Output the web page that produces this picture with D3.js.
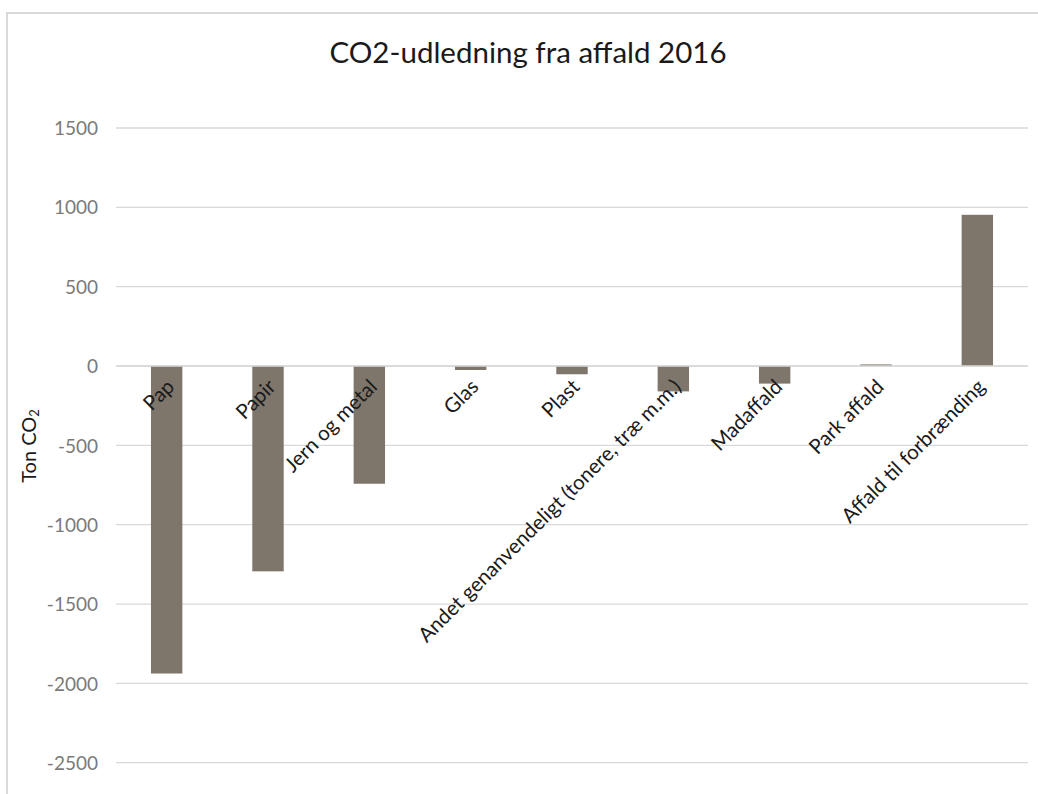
<!DOCTYPE html>
<html>
<head>
<meta charset="utf-8">
<script src="https://cdn.jsdelivr.net/npm/d3@7"></script>
<style>
  html, body { margin: 0; padding: 0; background: #fff; }
  svg { display: block; }
  text { font-family: Lato, "Open Sans", sans-serif; }
</style>
</head>
<body>
<svg id="chart" width="1038" height="794"></svg>
<script>
// Emissions per waste fraction, tonnes CO2 (negative = savings)
const categories = [
  "Pap", "Papir", "Jern og metal", "Glas", "Plast",
  "Andet genanvendeligt (tonere, træ m.m.)", "Madaffald", "Park affald",
  "Affald til forbrænding"
];
const values = [-1938, -1294, -742, -25, -52, -160, -111, 10, 953];
const yTicks = [1500, 1000, 500, 0, -500, -1000, -1500, -2000, -2500];
const titleText = "CO2-udledning fra affald 2016";

const svg = d3.select("#chart");
const W = 1038, H = 794;

// outer chart frame
svg.append("rect")
  .attr("x", 7).attr("y", 13)
  .attr("width", W + 10).attr("height", H + 10)
  .attr("fill", "#fff")
  .attr("stroke", "#d9d9d9").attr("stroke-width", 2);

const plot = { left: 116, right: 1028 };

const x = d3.scaleBand()
  .domain(categories)
  .range([plot.left, plot.right])
  .paddingInner(0.69).paddingOuter(0.345);

const y = d3.scaleLinear()
  .domain([-2500, 1500])
  .range([762.7, 128]);

// gridlines
svg.append("g")
  .selectAll("line")
  .data(yTicks)
  .join("line")
  .attr("x1", plot.left).attr("x2", plot.right)
  .attr("y1", d => y(d)).attr("y2", d => y(d))
  .attr("stroke", "#d9d9d9").attr("stroke-width", 1.3);

// y axis labels
const yAxis = d3.axisLeft(y).tickValues(yTicks).tickSize(0).tickPadding(0)
  .tickFormat(d => String(d));
const gy = svg.append("g")
  .attr("transform", `translate(${plot.left - 18},0)`)
  .call(yAxis);
gy.select(".domain").remove();
gy.selectAll("text")
  .attr("fill", "#7a7a7a")
  .attr("font-size", 19)
  .attr("font-family", "Lato, sans-serif")
  .attr("dy", "0.35em");

// bars
svg.append("g")
  .selectAll("rect")
  .data(values)
  .join("rect")
  .attr("x", (d, i) => x(categories[i]))
  .attr("width", x.bandwidth())
  .attr("y", d => y(Math.max(0, d)))
  .attr("height", d => Math.abs(y(d) - y(0)))
  .attr("fill", "#7f766b");

// zero line over bars
svg.append("line")
  .attr("x1", plot.left).attr("x2", plot.right)
  .attr("y1", y(0)).attr("y2", y(0))
  .attr("stroke", "#d9d9d9").attr("stroke-width", 1.3);

// rotated category labels
svg.append("g")
  .selectAll("text")
  .data(categories)
  .join("text")
  .attr("transform", d => `translate(${x(d) + x.bandwidth() / 2 + 9},${y(0) + 22}) rotate(-45)`)
  .attr("text-anchor", "end")
  .attr("font-size", 20.5)
  .attr("fill", "#1a1a1a")
  .text(d => d);

// title
svg.append("text")
  .attr("x", 528).attr("y", 63)
  .attr("text-anchor", "middle")
  .attr("font-size", 29.5)
  .attr("fill", "#1a1a1a")
  .text(titleText);

// y axis title
const yt = svg.append("text")
  .attr("transform", "translate(36,446) rotate(-90)")
  .attr("text-anchor", "middle")
  .attr("font-size", 20)
  .attr("fill", "#1a1a1a");
yt.append("tspan").text("Ton CO");
yt.append("tspan").attr("font-size", 13).attr("dy", 3).text("2");
</script>
</body>
</html>
